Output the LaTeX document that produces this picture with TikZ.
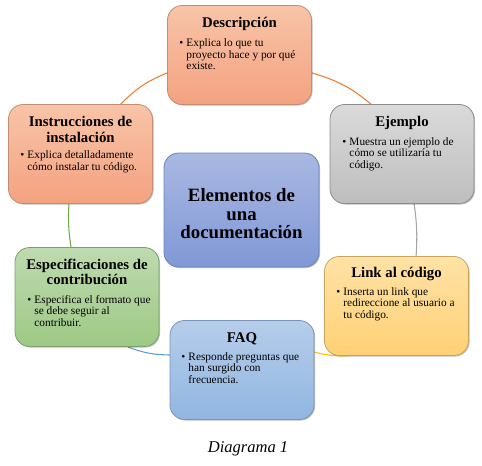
\documentclass[tikz,border=0pt]{standalone}
\usepackage{fontspec}
\setmainfont{Liberation Serif}
\usetikzlibrary{shadows}
\definecolor{salT}{RGB}{248,196,168}
\definecolor{salB}{RGB}{244,162,128}
\definecolor{salD}{RGB}{196,140,115}
\definecolor{gryT}{RGB}{218,218,218}
\definecolor{gryB}{RGB}{190,190,190}
\definecolor{gryD}{RGB}{140,140,140}
\definecolor{gldT}{RGB}{255,226,165}
\definecolor{gldB}{RGB}{255,209,118}
\definecolor{gldD}{RGB}{200,165,95}
\definecolor{bluT}{RGB}{182,205,234}
\definecolor{bluB}{RGB}{145,182,225}
\definecolor{bluD}{RGB}{120,148,185}
\definecolor{grnT}{RGB}{190,218,176}
\definecolor{grnB}{RGB}{158,201,132}
\definecolor{grnD}{RGB}{125,160,105}
\definecolor{perT}{RGB}{170,184,226}
\definecolor{perB}{RGB}{128,152,214}
\definecolor{perD}{RGB}{105,130,190}
\definecolor{cOra}{RGB}{237,125,49}
\definecolor{cGry}{RGB}{165,165,165}
\definecolor{cGld}{RGB}{255,192,0}
\definecolor{cBlu}{RGB}{91,155,213}
\definecolor{cGrn}{RGB}{112,173,71}
\newcommand\blist[1]{\begin{tabular}[t]{@{}p{5.4pt}@{}l@{}}\textbullet&#1\end{tabular}}
\newcommand\tlist[1]{\begin{tabular}[t]{@{}c@{}}#1\end{tabular}}
\tikzset{
  box/.style={rounded corners=11pt, minimum width=108pt, minimum height=74.25pt,
    line width=0.6pt, inner sep=0pt,
    drop shadow={shadow xshift=0.8pt, shadow yshift=-0.8pt, opacity=0.25, fill=black}},
  sal/.style={box, top color=salT, bottom color=salB, draw=salD},
  gry/.style={box, top color=gryT, bottom color=gryB, draw=gryD},
  gld/.style={box, top color=gldT, bottom color=gldB, draw=gldD},
  blu/.style={box, top color=bluT, bottom color=bluB, draw=bluD},
  grn/.style={box, top color=grnT, bottom color=grnB, draw=grnD},
  conn/.style={line width=0.8pt},
  ttl/.style={anchor=base, inner sep=0pt, font=\fontsize{11.1}{11.6}\selectfont\bfseries},
  blt/.style={anchor=base west, inner sep=0pt, font=\fontsize{8.5}{8.8}\selectfont},
}
\begin{document}
\begin{tikzpicture}[x=0.75pt,y=-0.75pt]
\useasboundingbox (0,0) rectangle (482,465);
% connector end points
\coordinate (a1) at (120,105);
\coordinate (a2) at (167,73);
\coordinate (b1) at (312,73);
\coordinate (b2) at (372,105);
\coordinate (c1) at (414,203);
\coordinate (c2) at (416,257);
\coordinate (d1) at (355,355);
\coordinate (d2) at (314,352);
\coordinate (e1) at (170,355);
\coordinate (e2) at (128,347);
\coordinate (f1) at (71,247);
\coordinate (f2) at (69,203);
\draw[conn, cOra] (a1) to[bend left=12] (a2);
\draw[conn, cOra] (b1) to[bend left=12] (b2);
\draw[conn, cGry] (c1) to[bend left=6] (c2);
\draw[conn, cGld] (d1) to[bend left=10] (d2);
\draw[conn, cBlu] (e1) to[bend left=10] (e2);
\draw[conn, cGrn] (f1) to[bend left=6] (f2);
% boxes
\node[sal] (desc) at (239.5,55) {};
\node[gry] (ejem) at (402,154) {};
\node[sal] (instr) at (80.5,154) {};
\node[grn] (espec) at (87,297) {};
\node[blu] (faq) at (242,370) {};
\node[gld] (link) at (396.5,306) {};
\node[box, top color=perT, bottom color=perB, draw=perD, minimum width=116.25pt, minimum height=85.5pt] (core) at (241.5,210) {};
% center text
\node[anchor=base, inner sep=0pt, font=\fontsize{14.1}{13.9}\selectfont\bfseries] (core-t) at (241.5,201.7)
  {\tlist{Elementos de\\una\\documentación}};
% titles
\node[ttl] (desc-t) at (239.5,27) {Descripción};
\node[ttl] (ejem-t) at (402,126.7) {Ejemplo};
\node[ttl] (instr-t) at (80.5,126.7) {\tlist{Instrucciones de\\instalación}};
\node[ttl] (espec-t) at (87,269.3) {\tlist{Especificaciones de\\contribución}};
\node[ttl] (faq-t) at (242,342.3) {FAQ};
\node[ttl] (link-t) at (396.5,277.5) {Link al código};
% bullets
\node[blt] (desc-b) at (179,46.5) {\blist{Explica lo que tu\\&proyecto hace y por qué\\&existe.}};
\node[blt] (ejem-b) at (342,145) {\blist{Muestra un ejemplo de\\&cómo se utilizaría tu\\&código.}};
\node[blt] (instr-b) at (20,158.3) {\blist{Explica detalladamente\\&cómo instalar tu código.}};
\node[blt] (espec-b) at (27,303) {\blist{Especifica el formato que\\&se debe seguir al\\&contribuir.}};
\node[blt] (faq-b) at (181,360) {\blist{Responde preguntas que\\&han surgido con\\&frecuencia.}};
\node[blt] (link-b) at (336,295) {\blist{Inserta un link que\\&redireccione al usuario a\\&tu código.}};
% caption
\node[anchor=base, inner sep=0pt, font=\fontsize{12.4}{14}\selectfont\itshape] (cap) at (248,452.5) {Diagrama 1};
\end{tikzpicture}
\end{document}
